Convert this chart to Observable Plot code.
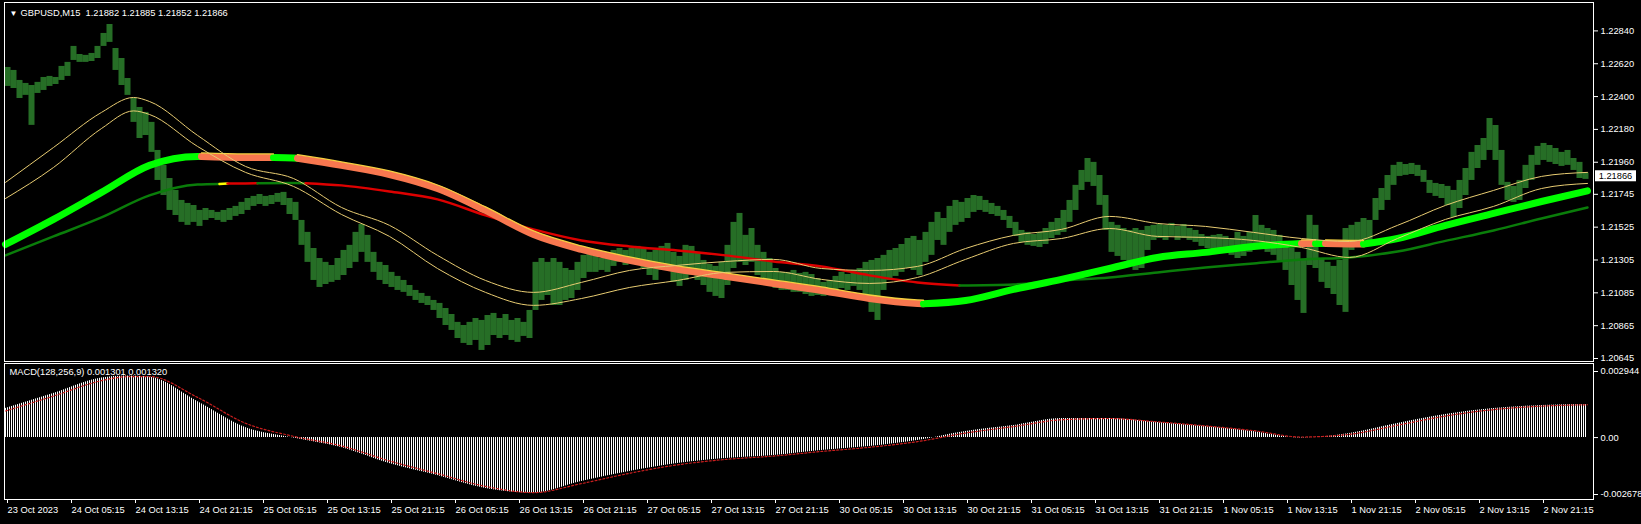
<!DOCTYPE html>
<html><head><meta charset="utf-8">
<script src="https://cdn.jsdelivr.net/npm/d3@7"></script>
<script src="https://cdn.jsdelivr.net/npm/@observablehq/plot@0.6"></script>
<style>
html,body{margin:0;padding:0;background:#000;}
#wrap{position:relative;width:1641px;height:524px;overflow:hidden;background:#000;}
#topline{position:absolute;left:0;top:0;width:1641px;height:1px;background:#9a9a9a;}
#main{position:absolute;left:0;top:0;}
#macd{position:absolute;left:0;top:362px;}
svg{display:block;}
svg text{white-space:pre;}
</style></head><body>
<svg width="0" height="0" style="position:absolute;left:0;top:0">
<defs>
<pattern id="barStripe" patternUnits="userSpaceOnUse" x="0" y="0" width="2" height="8"><rect x="1" y="0" width="1" height="8" fill="#4cdc4c"/></pattern>
<pattern id="histStripe" patternUnits="userSpaceOnUse" x="0" y="0" width="2" height="8"><rect x="1" y="0" width="1" height="8" fill="#ffffff"/></pattern>
</defs></svg>
<div id="wrap"><div id="topline"></div><div id="main"></div><div id="macd"></div></div>
<script>
// ---------- DATA (prices in points: price = 1.20000 + pts/100000) ----------
const titleText = "GBPUSD,M15  1.21882 1.21885 1.21852 1.21866";
const macdText = "MACD(128,256,9) 0.001301 0.001320";
const lastClosePts = 1866;

const priceTicks = [1.22840, 1.22620, 1.22400, 1.22180, 1.21960, 1.21745, 1.21525, 1.21305, 1.21085, 1.20865, 1.20645];
const macdTicksTop = [0.002944];
const macdTicksZero = [0];
const macdTicksBottom = [-0.002678];

const timeLabels = ["23 Oct 2023","24 Oct 05:15","24 Oct 13:15","24 Oct 21:15","25 Oct 05:15","25 Oct 13:15","25 Oct 21:15","26 Oct 05:15","26 Oct 13:15","26 Oct 21:15","27 Oct 05:15","27 Oct 13:15","27 Oct 21:15","30 Oct 05:15","30 Oct 13:15","30 Oct 21:15","31 Oct 05:15","31 Oct 13:15","31 Oct 21:15","1 Nov 05:15","1 Nov 13:15","1 Nov 21:15","2 Nov 05:15","2 Nov 13:15","2 Nov 21:15"];
const timeLabelBars = [0,32,64,96,128,160,192,224,256,288,320,352,384,416,448,480,512,544,576,608,640,672,704,736,768];

// price bars, one entry per group of three M15 bars (high / low)
const highPts = [2595,2575,2508,2488,2474,2495,2528,2535,2528,2602,
2629,2736,2682,2676,2689,2736,2823,2883,2722,2655,
2521,2387,2327,2294,2227,2039,1938,1851,1771,1704,
1684,1670,1637,1650,1637,1624,1637,1650,1664,1691,
1717,1731,1744,1731,1737,1751,1758,1717,1691,1570,
1490,1382,1315,1289,1268,1315,1369,1403,1490,1543,
1470,1356,1289,1268,1222,1195,1168,1134,1101,1081,
1061,1034,1014,980,940,887,866,887,913,900,
933,947,913,940,900,913,887,967,1289,1315,
1289,1315,1289,1248,1235,1289,1336,1356,1329,1315,
1342,1369,1382,1369,1382,1396,1382,1356,1369,1396,
1416,1356,1329,1403,1396,1356,1302,1275,1262,1289,
1403,1557,1617,1470,1516,1403,1356,1315,1248,1222,
1222,1235,1215,1222,1208,1181,1155,1168,1195,1222,
1208,1235,1248,1289,1302,1315,1336,1369,1382,1409,
1449,1463,1436,1490,1557,1624,1583,1664,1704,1691,
1717,1737,1731,1704,1684,1664,1637,1597,1557,1503,
1490,1476,1490,1516,1557,1583,1637,1704,1805,1905,
1985,1959,1871,1737,1557,1537,1516,1503,1516,1503,
1530,1537,1543,1537,1550,1530,1543,1516,1503,1476,
1463,1470,1476,1463,1449,1490,1463,1490,1603,1537,
1516,1503,1470,1423,1382,1356,1302,1604,1537,1315,
1289,1262,1302,1516,1537,1557,1583,1570,1717,1784,
1871,1939,1959,1945,1952,1939,1905,1838,1818,1811,
1798,1771,1838,1918,2026,2072,2119,2253,2206,2039,
1825,1798,1838,1939,2006,2066,2086,2072,2052,2026,
2039,1985,1959,1888];
const lowPts = [2468,2454,2387,2408,2207,2421,2441,2468,2481,2508,
2535,2642,2629,2629,2635,2655,2736,2763,2575,2474,
2408,2227,2119,2139,2026,1838,1737,1637,1603,1557,
1537,1557,1530,1570,1583,1570,1557,1570,1597,1610,
1637,1664,1677,1664,1677,1691,1670,1610,1570,1403,
1289,1168,1121,1141,1155,1168,1201,1248,1289,1356,
1289,1222,1168,1141,1121,1101,1088,1061,1034,1014,
1000,967,913,866,833,779,746,732,766,699,
732,799,779,799,766,753,793,779,967,1034,
1067,1000,1000,1034,1047,1101,1181,1222,1222,1235,
1222,1262,1289,1268,1289,1289,1248,1201,1168,1235,
1248,1155,1128,1168,1201,1168,1134,1088,1061,1047,
1134,1248,1289,1268,1289,1201,1168,1148,1114,1101,
1101,1088,1088,1074,1061,1067,1061,1074,1088,1114,
1101,1128,1101,1067,954,900,1101,1168,1195,1222,
1248,1235,1201,1289,1336,1436,1403,1490,1537,1557,
1583,1624,1637,1624,1610,1597,1570,1516,1463,1423,
1403,1396,1389,1409,1449,1470,1490,1557,1637,1771,
1825,1798,1671,1503,1356,1329,1302,1268,1235,1248,
1369,1436,1449,1436,1463,1436,1449,1436,1423,1396,
1382,1369,1356,1369,1336,1315,1329,1356,1403,1382,
1356,1336,1289,1235,1134,1034,947,1268,1248,1155,
1114,1074,1000,954,1369,1403,1436,1423,1570,1637,
1704,1805,1865,1872,1878,1865,1825,1751,1731,1717,
1670,1590,1650,1737,1838,1918,1972,2039,1972,1805,
1704,1691,1704,1784,1838,1939,1972,1959,1945,1932,
1939,1905,1851,1845];

// thick trend MA (g = rising colour, o = falling colour)
const thickBars = [0,24,48,72,96,98,120,134,144,146,168,192,216,240,264,288,312,336,360,384,408,432,456,459,480,504,528,552,576,600,624,648,655,660,672,679,696,720,744,768,791];
const thickPts = [1409,1577,1758,1939,1999,1999,1992,1992,1989,1987,1939,1878,1784,1637,1476,1376,1302,1242,1195,1148,1101,1047,1014,1012,1034,1108,1175,1248,1322,1356,1396,1416,1416,1416,1413,1412,1449,1537,1617,1697,1768];
const thickState = ["g","g","g","g","g","o","o","g","g","o","o","o","o","o","o","o","o","o","o","o","o","o","o","g","g","g","g","g","g","g","g","o","g","o","o","g","g","g","g","g","g"];

// slow MA (g = green, r = red, y = yellow)
const slowBars = [0,24,48,72,96,107,111,120,126,144,150,168,192,216,240,264,288,312,336,360,384,408,432,456,477,504,528,552,576,600,624,648,672,696,720,744,768,791];
const slowPts = [1336,1463,1590,1738,1811,1815,1817,1818,1819,1821,1820,1805,1764,1711,1604,1510,1436,1396,1369,1336,1295,1262,1202,1155,1134,1141,1168,1188,1222,1255,1282,1309,1322,1362,1433,1503,1583,1657];
const slowState = ["g","g","g","g","g","y","r","r","g","g","r","r","r","r","r","r","r","r","r","r","r","r","r","r","g","g","g","g","g","g","g","g","g","g","g","g","g","g"];

// two thin yellow MAs
const bandBars = [0,24,48,64,72,96,120,144,168,192,216,240,264,288,312,336,360,384,408,432,456,480,504,528,552,576,600,624,648,672,696,720,744,768,791];
const bandUpperPts = [1825,2059,2294,2394,2367,2140,1932,1851,1657,1537,1336,1168,1088,1155,1235,1269,1295,1309,1248,1235,1262,1382,1470,1510,1597,1550,1530,1490,1449,1429,1537,1671,1771,1865,1892];
const bandLowerPts = [1717,1925,2186,2304,2280,2066,1892,1798,1610,1463,1248,1088,1001,1047,1121,1168,1222,1228,1175,1148,1188,1309,1416,1449,1516,1463,1456,1436,1389,1322,1449,1577,1664,1784,1818];

// MACD histogram and signal, in millionths
const macdBars = [0,24,48,60,72,96,120,144,168,192,216,240,264,288,312,336,360,384,408,432,456,480,504,528,552,576,600,624,648,672,696,720,744,768,791];
const macdHist = [1254,1903,2573,2660,2617,1557,433,-20,-433,-1125,-1644,-2206,-2400,-1903,-1470,-1125,-908,-779,-562,-389,-130,260,519,822,822,649,476,260,-20,173,606,995,1254,1384,1427];
const macdSignal = [1150,1795,2460,2630,2640,1740,620,55,-360,-1010,-1560,-2110,-2380,-1990,-1545,-1180,-945,-800,-600,-420,-175,195,475,770,825,680,505,300,25,140,535,930,1210,1360,1420];

// ---------- STYLE ----------
const FONT = "'Liberation Sans', Arial, sans-serif";
const thickColors = {g: "#00ff00", o: "#f8774f"};
const slowColors = {g: "#0a7d0a", r: "#dd0000", y: "#ffff00"};
const bandColor = "#e8cc72";

// ---------- BUILD ----------
const P = v => 1.2 + v / 100000;
const bars = highPts.map((h, j) => ({i: 3 * j + 1, hi: P(h), lo: P(lowPts[j])}));

function toRuns(idx, vals, states, colors) {
  const rows = []; let run = 0;
  for (let k = 0; k < idx.length; k++) {
    if (k > 0 && states[k] !== states[k - 1]) {
      rows.push({i: idx[k], v: P(vals[k]), s: states[k - 1], c: colors[states[k - 1]], run});
      run++;
    }
    rows.push({i: idx[k], v: P(vals[k]), s: states[k], c: colors[states[k]], run});
  }
  return rows;
}
const thickRows = toRuns(thickBars, thickPts, thickState, thickColors);
const slowRows = toRuns(slowBars, slowPts, slowState, slowColors);
const bandRows = bandBars.map((b, k) => ({i: b, up: P(bandUpperPts[k]), lo: P(bandLowerPts[k])}));
const macdRows = macdBars.map((b, k) => ({i: b, h: macdHist[k] / 1e6, s: macdSignal[k] / 1e6}));
const labelMap = new Map(timeLabelBars.map((b, k) => [b, timeLabels[k]]));

const xDomain = [-0.5, 794];

const main = Plot.plot({
  width: 1641, height: 362,
  marginLeft: 4, marginRight: 48, marginTop: 2, marginBottom: 1,
  style: {background: "#000", color: "#fff", fontFamily: FONT, fontSize: "9.3px"},
  x: {domain: xDomain, axis: null},
  y: {domain: [1.206249, 1.230303], axis: null},
  color: {type: "identity"},
  marks: [
    Plot.ruleX(bars, {x: "i", y1: "lo", y2: "hi", stroke: "url(#barStripe)", strokeWidth: 6}),
    Plot.line(slowRows, {x: "i", y: "v", z: "run", stroke: "c", strokeWidth: 2.5, curve: "monotone-x"}),
    Plot.line(thickRows, {x: "i", y: "v", z: "run", stroke: "c", strokeWidth: 7, curve: "monotone-x"}),
    Plot.line(thickRows.filter(d => d.s === "o"), {x: "i", y: "v", z: "run", stroke: "#f5d040", strokeWidth: 1.3, dy: -3.5, curve: "monotone-x"}),
    Plot.line(bandRows, {x: "i", y: "up", stroke: bandColor, strokeWidth: 1, curve: "monotone-x"}),
    Plot.line(bandRows, {x: "i", y: "lo", stroke: bandColor, strokeWidth: 1, curve: "monotone-x"}),
    Plot.axisY(priceTicks, {anchor: "right", tickFormat: d3.format(".5f"), tickSize: 4, tickPadding: 3, label: null}),
    Plot.frame({stroke: "#fff"}),
    Plot.text(["\u25BC"], {text: d => d, frameAnchor: "top-left", dx: 5, dy: 10.5, fontSize: 8, textAnchor: "start", lineAnchor: "middle", fill: "#fff"}),
    Plot.text([titleText], {text: d => d, frameAnchor: "top-left", dx: 16, dy: 10.7, textAnchor: "start", lineAnchor: "middle", fill: "#fff"})
  ]
});
document.getElementById("main").appendChild(main);

// current price label box on the price axis
{
  const yy = main.scale("y").apply(P(lastClosePts));
  const xr = main.scale("x").range[1];
  const g = d3.select(main).append("g");
  g.append("rect").attr("x", xr + 2).attr("y", yy - 5.5).attr("width", 41).attr("height", 11).attr("fill", "#fff");
  g.append("text").attr("x", xr + 22.5).attr("y", yy).attr("dy", "0.34em").attr("text-anchor", "middle")
    .attr("fill", "#000").attr("font-family", FONT).attr("font-size", "9.3px").text(d3.format(".5f")(P(lastClosePts)));
}

const macd = Plot.plot({
  width: 1641, height: 162,
  marginLeft: 4, marginRight: 48, marginTop: 1, marginBottom: 25,
  style: {background: "#000", color: "#fff", fontFamily: FONT, fontSize: "9.3px"},
  x: {domain: xDomain, axis: null},
  y: {domain: [-0.002678, 0.002944], range: [137, 7], axis: null},
  marks: [
    Plot.areaY(macdRows, {x: "i", y: "h", fill: "url(#histStripe)", curve: "monotone-x"}),
    Plot.line(macdRows, {x: "i", y: "s", stroke: "#c81e1e", strokeWidth: 1.2, strokeDasharray: "2,2", curve: "monotone-x"}),
    Plot.axisY(macdTicksTop, {anchor: "right", tickSize: 4, tickPadding: 3, tickFormat: d => d.toFixed(6), dy: 2, label: null}),
    Plot.axisY(macdTicksZero, {anchor: "right", tickSize: 4, tickPadding: 3, tickFormat: () => "0.00", label: null}),
    Plot.axisY(macdTicksBottom, {anchor: "right", tickSize: 4, tickPadding: 3, tickFormat: d => d.toFixed(6), dy: -5, label: null}),
    Plot.axisX(timeLabelBars, {anchor: "bottom", tickSize: 4, tickPadding: 3, tickFormat: d => labelMap.get(d), textAnchor: "start", dx: 2, label: null}),
    Plot.frame({stroke: "#fff"}),
    Plot.text([macdText], {text: d => d, frameAnchor: "top-left", dx: 5, dy: 9, textAnchor: "start", lineAnchor: "middle", fill: "#fff"})
  ]
});
document.getElementById("macd").appendChild(macd);
</script>
</body></html>
